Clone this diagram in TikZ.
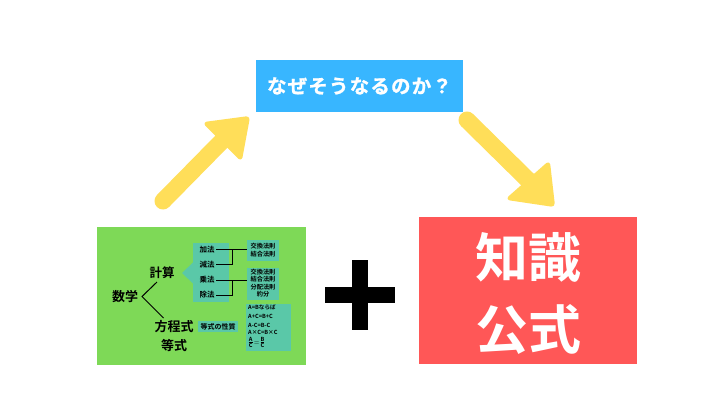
\documentclass[tikz,border=0pt]{standalone}
\usepackage{fontspec}
\setmainfont{Noto Sans CJK JP}[BoldFont={Noto Sans CJK JP Bold}]
\definecolor{cgreen}{HTML}{7ED957}
\definecolor{cteal}{HTML}{5AC8A8}
\definecolor{cblue}{HTML}{38B6FF}
\definecolor{cred}{HTML}{FF5757}
\definecolor{cyellow}{HTML}{FFDE59}
\tikzset{
  txt/.style={inner sep=0pt, font=\bfseries},
  small/.style={inner sep=0pt, font=\bfseries\fontsize{7.5}{8}\selectfont},
  tiny/.style={inner sep=0pt, font=\bfseries\fontsize{6.2}{7}\selectfont},
  tinier/.style={inner sep=0pt, font=\bfseries\fontsize{5.6}{6}\selectfont, anchor=west},
  link/.style={draw=black, line width=0.9pt},
  shaft/.style={draw=cyellow, line width=17pt, line cap=round},
  head/.style={fill=cyellow, draw=cyellow, line width=2pt, rounded corners=3pt, line join=round}
}
\begin{document}
\begin{tikzpicture}[x=1pt,y=-1pt]
\useasboundingbox (0,0) rectangle (720,405);
\fill[white] (0,0) rectangle (720,405);

% green panel
\node[fill=cgreen, minimum width=209pt, minimum height=138pt, inner sep=0pt] (green) at (201.5,296) {};

% teal callout
\fill[cteal] (193,243) rectangle (229,302);
\fill[cteal] (193.5,262) -- (182,273) -- (193.5,284) -- cycle;
\node[fill=cteal, minimum width=32pt, minimum height=21pt, inner sep=0pt] (b2) at (263,250.5) {};
\node[fill=cteal, minimum width=32pt, minimum height=32pt, inner sep=0pt] (b3) at (263,284) {};
\node[fill=cteal, minimum width=45pt, minimum height=47pt, inner sep=0pt] (b4) at (268.5,327.5) {};
\node[fill=cteal, minimum width=40pt, minimum height=11pt, inner sep=0pt] (b5) at (218,326.5) {};

% big labels
\node[txt, font=\bfseries\fontsize{12.5}{13}\selectfont] (keisan) at (162,272.5) {計算};
\node[txt, font=\bfseries\fontsize{13}{14}\selectfont] (sugaku) at (125,296.5) {数学};
\node[txt, font=\bfseries\fontsize{13}{14}\selectfont] (hotei) at (174,327) {方程式};
\node[txt, font=\bfseries\fontsize{13}{14}\selectfont] (toshiki) at (174,345.5) {等式};

% bracket
\coordinate (v) at (142,296.5);
\coordinate (vu) at (157,282);
\coordinate (vl) at (163.5,318);
\draw[link, line width=1pt] (vu) -- (v) -- (vl);

% operations
\node[small] (ka) at (207,249.5) {加法};
\node[small] (gen) at (207,264.5) {減法};
\node[small] (jo) at (207,280) {乗法};
\node[small] (jyo) at (207,295) {除法};

\coordinate (j1) at (232.5,249.5);
\coordinate (j2) at (232.5,280);
\draw[link] (ka.east) ++(1.5,0) -- (b2.west |- ka);
\draw[link] (gen.east) ++(1.5,0) -| (j1);
\draw[link] (jo.east) ++(1.5,0) -- (b3.west |- jo);
\draw[link] (jyo.east) ++(1.5,0) -| (j2);

% law boxes
\node[tiny] (l1) at (263,245.8) {交換法則};
\node[tiny] (l2) at (263,254.6) {結合法則};
\node[tiny] (l3) at (263,272.3) {交換法則};
\node[tiny] (l4) at (263,279.5) {結合法則};
\node[tiny] (l5) at (263,287) {分配法則};
\node[tiny] (l6) at (263,294.5) {約分};

\node[inner sep=0pt, font=\bfseries\fontsize{7}{8}\selectfont] (tsei) at (218,326.5) {等式の性質};

\node[tinier] (e1) at (248,307.8) {A=Bならば};
\node[tinier] (e2) at (248,316.7) {A+C=B+C};
\node[tinier] (e3) at (248,325) {A-C=B-C};
\node[tinier] (e4) at (248,332) {A×C=B×C};
\node[tinier] (e5) at (247.5,342.5) {$\frac{\mbox{A}}{\mbox{C}}{=}\frac{\mbox{B}}{\mbox{C}}$};

% plus
\node[fill=black, minimum width=70pt, minimum height=16pt, inner sep=0pt] (plush) at (360,295) {};
\node[fill=black, minimum width=16pt, minimum height=70pt, inner sep=0pt] (plusv) at (360,295) {};

% blue question box
\node[fill=cblue, minimum width=207pt, minimum height=52pt, inner sep=0pt, text=white,
      font=\bfseries\fontsize{19.5}{20}\selectfont\addfontfeature{LetterSpace=6,FakeBold=1.2}] (q) at (359.5,86) {なぜそうなるのか？};

% red box
\node[fill=cred, minimum width=218pt, minimum height=147pt, inner sep=0pt] (red) at (528,290.5) {};
\node[inner sep=0pt, text=white, font=\bfseries\fontsize{53}{55}\selectfont] (chishiki) at (528,257.5) {知識};
\node[inner sep=0pt, text=white, font=\bfseries\fontsize{53}{55}\selectfont] (koshiki) at (528,329) {公式};

% yellow arrows
\coordinate (at1) at (163,201);
\coordinate (ab1) at (222,141);
\draw[shaft] (at1) -- (ab1);
\filldraw[head] (249,117) -- (204,123) -- (241,160) -- cycle;

\coordinate (at2) at (467,120);
\coordinate (ab2) at (528,180);
\draw[shaft] (at2) -- (ab2);
\filldraw[head] (554,206) -- (549,162) -- (507,199) -- cycle;
\end{tikzpicture}
\end{document}
